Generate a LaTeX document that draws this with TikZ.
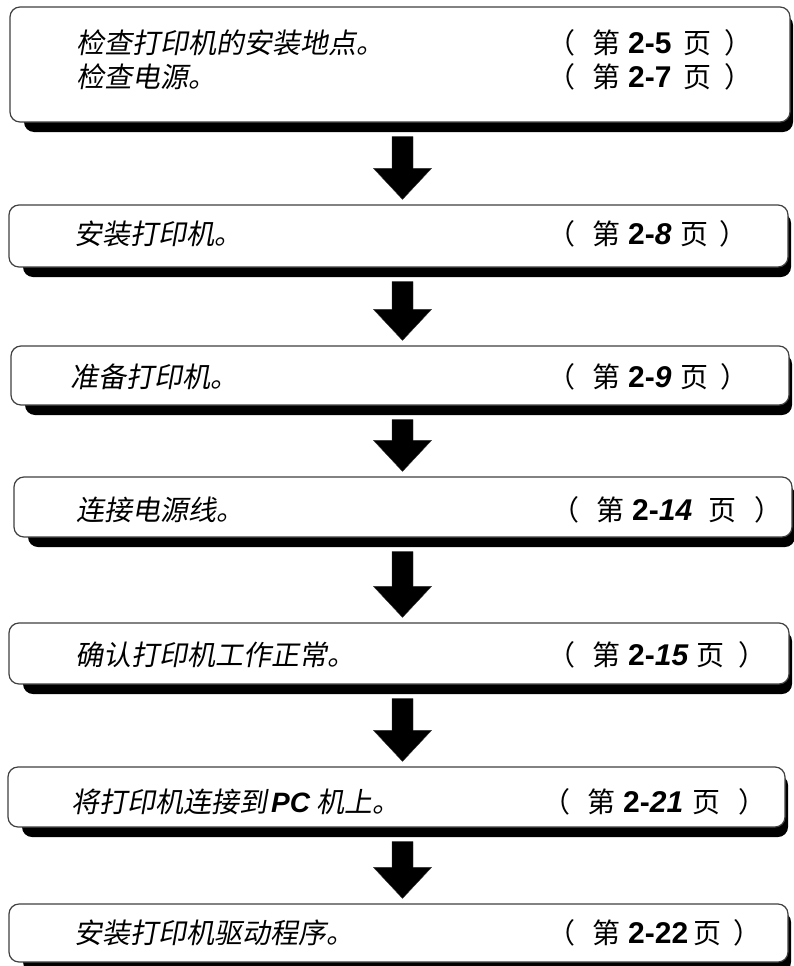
\documentclass[tikz,border=0pt]{standalone}
\usepackage{fontspec}
\setmainfont{Liberation Sans}
\newfontfamily\cjk[FakeSlant=0.18]{Noto Sans CJK SC}
\newfontfamily\cjkup{Noto Sans CJK SC}
\usetikzlibrary{calc}
\tikzset{
  x=1pt, y=-1pt,
  stepbox/.style={rectangle, draw=black!75, line width=1.2pt, fill=white, rounded corners=10pt, inner sep=0pt},
  boxshadow/.style={fill=black, rounded corners=10pt},
  arrowfill/.style={fill=black, draw=black!80, line width=0.4pt, line join=miter},
  maintext/.style={anchor=base west, inner sep=0pt, font=\cjk\fontsize{28}{32}\selectfont},
  reftext/.style={anchor=base west, inner sep=0pt, font=\fontsize{28}{32}\selectfont},
}
\newcommand\pref[3]{{\cjkup （}\hspace{17pt}{\cjkup 第}\hspace{8pt}{\fontsize{30}{32}\selectfont\bfseries #1}\hspace{#2}{\cjkup 页}\hspace{#3}{\cjkup ）}}
\newcommand\flowbox[5]{%
  \fill[boxshadow] (#2+14,#5+10) rectangle (#4+3,#3+8);
  \node[stepbox, minimum width={(#4-#2)*1pt}, minimum height={(#5-#3)*1pt}] (#1) at ({(#2+#4)/2},{(#3+#5)/2}) {};}
\newcommand\blockarrow[3]{%
  \path let \p1=(#1.south), \p2=(#2.north) in
    (402.5pt,\y1-14pt) coordinate (#3s) (402.5pt,\y2+5pt) coordinate (#3t);
  \path[arrowfill] let \p1=(#3s), \p2=(#3t) in
    (\x1-10.5pt,\y1) -- (\x1+10.5pt,\y1) -- (\x1+10.5pt,\y2+31pt) -- (\x1+29pt,\y2+31pt)
    -- (\x2,\y2) -- (\x1-29pt,\y2+31pt) -- (\x1-10.5pt,\y2+31pt) -- cycle;}
\begin{document}
\begin{tikzpicture}
\useasboundingbox (0,0) rectangle (793,966);
\fill[white] (0,0) rectangle (793,966);
% boxes
\flowbox{b1}{10}{7}{790}{122}
\flowbox{b2}{9}{205}{788}{267}
\flowbox{b3}{11}{346}{789}{405}
\flowbox{b4}{14}{477}{792}{537}
\flowbox{b5}{9}{623}{789}{684}
\flowbox{b6}{8}{767}{785}{827}
\flowbox{b7}{9}{904}{788}{962}
% arrows
\blockarrow{b1}{b2}{a1}
\blockarrow{b2}{b3}{a2}
\blockarrow{b3}{b4}{a3}
\blockarrow{b4}{b5}{a4}
\blockarrow{b5}{b6}{a5}
\blockarrow{b6}{b7}{a6}
% texts
\node[maintext] (t1a) at (76,53) {检查打印机的安装地点。};
\node[maintext] (t1b) at (76,88) {检查电源。};
\node[maintext] (t2) at (74,244) {安装打印机。};
\node[maintext] (t3) at (70,387) {准备打印机。};
\node[maintext] (t4) at (76,520) {连接电源线。};
\node[maintext] (t5) at (75,665) {确认打印机工作正常。};
\node[maintext] (t6) at (71,812) {将打印机连接到\hspace{4pt}{\normalfont\bfseries\itshape PC} 机上。};
\node[maintext] (t7) at (74,943) {安装打印机驱动程序。};
% page references
\node[reftext] (r1a) at (547,53) {\pref{2-5}{12pt}{13pt}};
\node[reftext] (r1b) at (547,88) {\pref{2-7}{12pt}{13pt}};
\node[reftext] (r2) at (547,244) {\pref{2-\textit{8}}{9pt}{11pt}};
\node[reftext] (r3) at (547,387) {\pref{2-\textit{9}}{9pt}{12pt}};
\node[reftext] (r4) at (551,520) {\pref{2-\textit{14}}{16pt}{18pt}};
\node[reftext] (r5) at (547,665) {\pref{2-\textit{15}}{8pt}{14pt}};
\node[reftext] (r6) at (542,812) {\pref{2-\textit{21}}{9pt}{18pt}};
\node[reftext] (r7) at (547,943) {\pref{2-22}{5pt}{12pt}};
\end{tikzpicture}
\end{document}
